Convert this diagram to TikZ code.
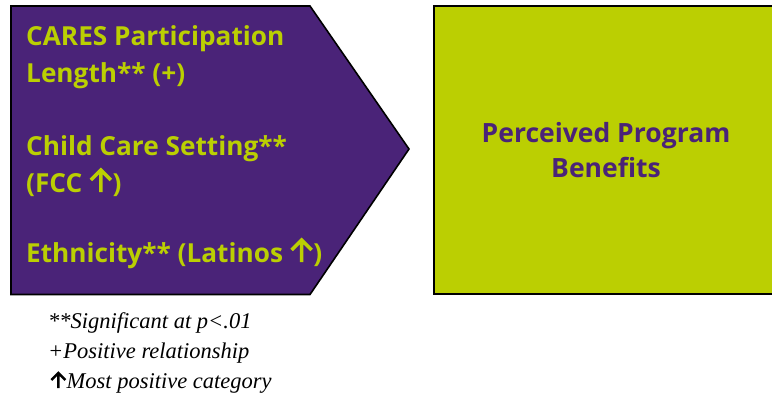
\documentclass[tikz,border=0pt]{standalone}
\usepackage{fontspec}
\setmainfont{Liberation Serif}
\newfontfamily\headfont{Open Sans}
\definecolor{cpurple}{HTML}{4A2378}
\definecolor{cgreen}{HTML}{BBCF02}
\newcommand\uparr[3]{\tikz[baseline=0pt,x=1pt,y=1pt]\draw[line width=#3,line cap=butt,line join=miter] (0,0) -- (0,#2) (-#1,#2-#1) -- (0,#2) -- (#1,#2-#1);}
\begin{document}
\begin{tikzpicture}[x=1pt,y=-1pt,
  lefttext/.style={anchor=base west,inner sep=0pt,text=cgreen,font=\headfont\bfseries\fontsize{26.2}{30}\selectfont},
  righttext/.style={align=center,inner sep=0pt,text=cpurple,font=\headfont\bfseries\fontsize{26.5}{35}\selectfont},
  note/.style={anchor=base west,inner sep=0pt,font=\itshape\fontsize{22.5}{24}\selectfont},
  shapeborder/.style={draw=black,line width=1.6pt,line join=miter}]
\useasboundingbox (0,0) rectangle (772,400);
% purple arrow-shaped box
\draw[shapeborder,fill=cpurple] (11,6) -- (310,6) -- (409,149) -- (310,294.5) -- (11,294.5) -- cycle;
% green box
\draw[shapeborder,fill=cgreen] (434,6) rectangle (774,294);
% left texts
\node[lefttext] (t1) at (26,45) {CARES Participation};
\node[lefttext] (t2) at (26,82) {Length** (+)};
\node[lefttext] (t3) at (26,155) {Child Care Setting**};
\node[lefttext] (t4) at (26,192) {(FCC \uparr{10}{22}{3.5pt})};
\node[lefttext] (t5) at (26,262) {Ethnicity** (Latinos \uparr{10}{22}{3.5pt})};
% right text
\node[righttext] (outc) at (606,150) {Perceived Program\\Benefits};
% notes
\node[note] (n1) at (48,328) {**Significant at p<.01};
\node[note] (n2) at (48,358) {+Positive relationship};
\node[note] (n3) at (50,388) {\uparr{7}{15}{2.5pt}Most positive category};
\end{tikzpicture}
\end{document}
